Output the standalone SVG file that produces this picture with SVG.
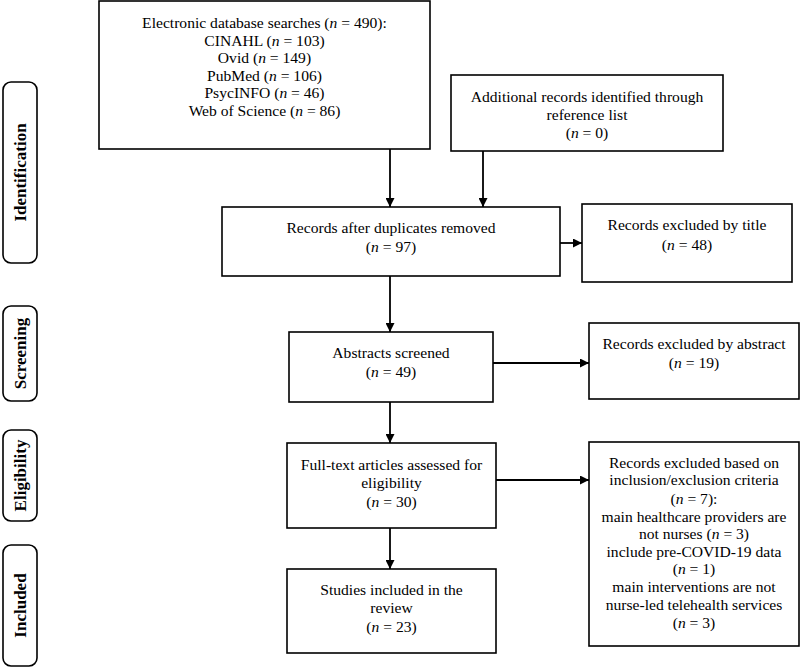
<svg xmlns="http://www.w3.org/2000/svg" width="800" height="667" viewBox="0 0 800 667">
<style>
.box{fill:#fff;stroke:#000;stroke-width:1.6}
.lab{fill:#fff;stroke:#000;stroke-width:1.6}
.t{font-family:"Liberation Serif","Times New Roman",serif;font-size:15.6px;fill:#000;text-anchor:middle}
.lt{font-family:"Liberation Serif","Times New Roman",serif;font-size:17px;font-weight:bold;fill:#000;text-anchor:middle}
.c{stroke:#000;stroke-width:1.8;fill:none}
</style>
<defs>
<marker id="ah" viewBox="0 0 10 10" refX="10" refY="5" markerWidth="9" markerHeight="9" markerUnits="userSpaceOnUse" orient="auto">
<path d="M0,0 L10,5 L0,10 Z" fill="#000"/>
</marker>
</defs>
<rect width="800" height="667" fill="#fff"/>

<g id="stage-identification">
<rect class="lab" x="3" y="82" width="34" height="181" rx="8"/>
<text class="lt" transform="translate(25.5,172.5) rotate(-90)">Identification</text>
</g>
<g id="stage-screening">
<rect class="lab" x="3" y="306" width="34" height="95" rx="8"/>
<text class="lt" transform="translate(25.5,353.5) rotate(-90)">Screening</text>
</g>
<g id="stage-eligibility">
<rect class="lab" x="3" y="430" width="34" height="91" rx="8"/>
<text class="lt" transform="translate(25.5,475.5) rotate(-90)">Eligibility</text>
</g>
<g id="stage-included">
<rect class="lab" x="3" y="545" width="34" height="121" rx="8"/>
<text class="lt" transform="translate(25.5,605.5) rotate(-90)">Included</text>
</g>

<g id="db-search">
<rect class="box" x="99" y="1" width="331" height="148"/>
<text class="t" x="264.5" y="28">Electronic database searches (<tspan font-style="italic">n</tspan> = 490):</text>
<text class="t" x="264.5" y="45.5">CINAHL (<tspan font-style="italic">n</tspan> = 103)</text>
<text class="t" x="264.5" y="63">Ovid (<tspan font-style="italic">n</tspan> = 149)</text>
<text class="t" x="264.5" y="80.5">PubMed (<tspan font-style="italic">n</tspan> = 106)</text>
<text class="t" x="264.5" y="98">PsycINFO (<tspan font-style="italic">n</tspan> = 46)</text>
<text class="t" x="264.5" y="115.5">Web of Science (<tspan font-style="italic">n</tspan> = 86)</text>
</g>

<g id="additional">
<rect class="box" x="451" y="75" width="272" height="76"/>
<text class="t" x="587" y="102">Additional records identified through</text>
<text class="t" x="587" y="119.5">reference list</text>
<text class="t" x="587" y="138">(<tspan font-style="italic">n</tspan> = 0)</text>
</g>

<g id="dedup">
<rect class="box" x="222" y="207" width="338" height="69"/>
<text class="t" x="391" y="233">Records after duplicates removed</text>
<text class="t" x="391" y="252">(<tspan font-style="italic">n</tspan> = 97)</text>
</g>

<g id="excl-title">
<rect class="box" x="582" y="204" width="210" height="78"/>
<text class="t" x="687" y="230">Records excluded by title</text>
<text class="t" x="687" y="250">(<tspan font-style="italic">n</tspan> = 48)</text>
</g>

<g id="abstracts">
<rect class="box" x="289" y="332" width="204" height="70"/>
<text class="t" x="391" y="358">Abstracts screened</text>
<text class="t" x="391" y="377">(<tspan font-style="italic">n</tspan> = 49)</text>
</g>

<g id="excl-abstract">
<rect class="box" x="589" y="323" width="210" height="76"/>
<text class="t" x="694" y="349">Records excluded by abstract</text>
<text class="t" x="694" y="368">(<tspan font-style="italic">n</tspan> = 19)</text>
</g>

<g id="fulltext">
<rect class="box" x="287" y="443" width="209" height="85"/>
<text class="t" x="391.5" y="470">Full-text articles assessed for</text>
<text class="t" x="391.5" y="488">eligibility</text>
<text class="t" x="391.5" y="507">(<tspan font-style="italic">n</tspan> = 30)</text>
</g>

<g id="excl-criteria">
<rect class="box" x="589" y="442" width="210" height="204"/>
<text class="t" x="694" y="467.5">Records excluded based on</text>
<text class="t" x="694" y="485.3">inclusion/exclusion criteria</text>
<text class="t" x="694" y="503.6">(<tspan font-style="italic">n</tspan> = 7):</text>
<text class="t" x="694" y="521.5">main healthcare providers are</text>
<text class="t" x="694" y="539.2">not nurses (<tspan font-style="italic">n</tspan> = 3)</text>
<text class="t" x="694" y="556.7">include pre-COVID-19 data</text>
<text class="t" x="694" y="574.3">(<tspan font-style="italic">n</tspan> = 1)</text>
<text class="t" x="694" y="592.2">main interventions are not</text>
<text class="t" x="694" y="610">nurse-led telehealth services</text>
<text class="t" x="694" y="627.6">(<tspan font-style="italic">n</tspan> = 3)</text>
</g>

<g id="included">
<rect class="box" x="287" y="569" width="209" height="84"/>
<text class="t" x="391.5" y="595">Studies included in the</text>
<text class="t" x="391.5" y="613">review</text>
<text class="t" x="391.5" y="632">(<tspan font-style="italic">n</tspan> = 23)</text>
</g>

<g id="connectors">
<line class="c" x1="390" y1="149" x2="390" y2="207" marker-end="url(#ah)"/>
<line class="c" x1="483" y1="151" x2="483" y2="207" marker-end="url(#ah)"/>
<line class="c" x1="560" y1="243" x2="582" y2="243" marker-end="url(#ah)"/>
<line class="c" x1="390" y1="276" x2="390" y2="332" marker-end="url(#ah)"/>
<line class="c" x1="493" y1="363" x2="589" y2="363" marker-end="url(#ah)"/>
<line class="c" x1="390" y1="402" x2="390" y2="443" marker-end="url(#ah)"/>
<line class="c" x1="496" y1="480" x2="589" y2="480" marker-end="url(#ah)"/>
<line class="c" x1="390" y1="528" x2="390" y2="569" marker-end="url(#ah)"/>
</g>
</svg>
